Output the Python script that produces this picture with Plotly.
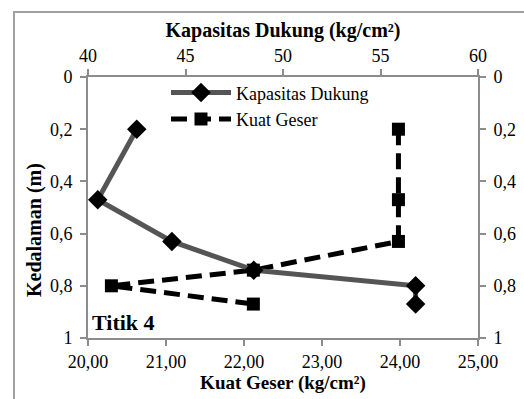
import plotly.graph_objects as go

depth_kd = [0.2, 0.47, 0.63, 0.74, 0.8, 0.87]
kapasitas_dukung = [42.5, 40.5, 44.3, 48.5, 56.8, 56.8]

depth_kg = [0.2, 0.47, 0.63, 0.74, 0.8, 0.87]
kuat_geser = [23.98, 23.98, 23.98, 22.12, 20.3, 22.12]

y_tickvals = [0, 0.2, 0.4, 0.6, 0.8, 1]
y_ticktext = ["0", "0,2", "0,4", "0,6", "0,8", "1"]

FONT = "Liberation Serif"
AX = "#8c8c8c"

fig = go.Figure()
fig.add_trace(go.Scatter(
    x=kapasitas_dukung, y=depth_kd, name="Kapasitas Dukung",
    xaxis="x2", yaxis="y",
    mode="lines+markers",
    line=dict(color="#555555", width=5),
    marker=dict(symbol="diamond", size=15, color="black"),
))
fig.add_trace(go.Scatter(
    x=kuat_geser, y=depth_kg, name="Kuat Geser",
    xaxis="x", yaxis="y",
    mode="lines+markers",
    line=dict(color="black", width=5, dash="16px,8px"),
    marker=dict(symbol="square", size=13, color="black"),
))
fig.add_trace(go.Scatter(x=[None], y=[None], xaxis="x", yaxis="y2", showlegend=False))

axis_common = dict(showline=True, linecolor=AX, linewidth=2, ticks="outside",
                   tickcolor=AX, ticklen=6, tickwidth=2, showgrid=False, zeroline=False,
                   automargin=False,
                   tickfont=dict(family=FONT, size=18, color="black"))

fig.update_layout(
    width=524, height=399,
    margin=dict(l=88, r=46, t=77, b=61, autoexpand=False),
    paper_bgcolor="white", plot_bgcolor="white",
    separators=",.",
    font=dict(family=FONT, color="black"),
    xaxis=dict(range=[20, 25], dtick=1, tickformat=".2f",
               title=dict(text="<b>Kuat Geser (kg/cm²)</b>", font=dict(family=FONT, size=19), standoff=4),
               **axis_common),
    xaxis2=dict(range=[40, 60], dtick=5, overlaying="x", side="top",
                title=dict(text="<b>Kapasitas Dukung (kg/cm²)</b>", font=dict(family=FONT, size=20), standoff=3),
                **axis_common),
    yaxis=dict(range=[1, 0], tickvals=y_tickvals, ticktext=y_ticktext, ticklabelstandoff=4,
               **axis_common),
    yaxis2=dict(range=[1, 0], tickvals=y_tickvals, ticktext=y_ticktext, overlaying="y", side="right",
                ticklabelstandoff=4, **axis_common),
    legend=dict(x=0.2, y=1.01, xanchor="left", yanchor="top", bgcolor="rgba(0,0,0,0)",
                font=dict(family=FONT, size=18), tracegroupgap=0, itemwidth=60),
    showlegend=True,
)

fig.add_annotation(text="<b>Kedalaman (m)</b>", xref="paper", yref="paper",
                   x=(34 - 88) / 390, y=(338 - 230) / 261, textangle=-90,
                   xanchor="center", yanchor="middle", showarrow=False,
                   font=dict(family=FONT, size=20, color="black"))

fig.add_annotation(text="<b>Titik 4</b>", xref="paper", yref="paper", x=0.005, y=0.005,
                   xanchor="left", yanchor="bottom", showarrow=False,
                   font=dict(family=FONT, size=22, color="black"))

fig.add_shape(type="rect", xref="paper", yref="paper",
              x0=(14 - 88) / 390, x1=(540 - 88) / 390, y0=(338 - 420) / 261, y1=(338 - 12) / 261,
              line=dict(color="#a0a0a0", width=2), layer="below")

fig.write_html("out.html")
